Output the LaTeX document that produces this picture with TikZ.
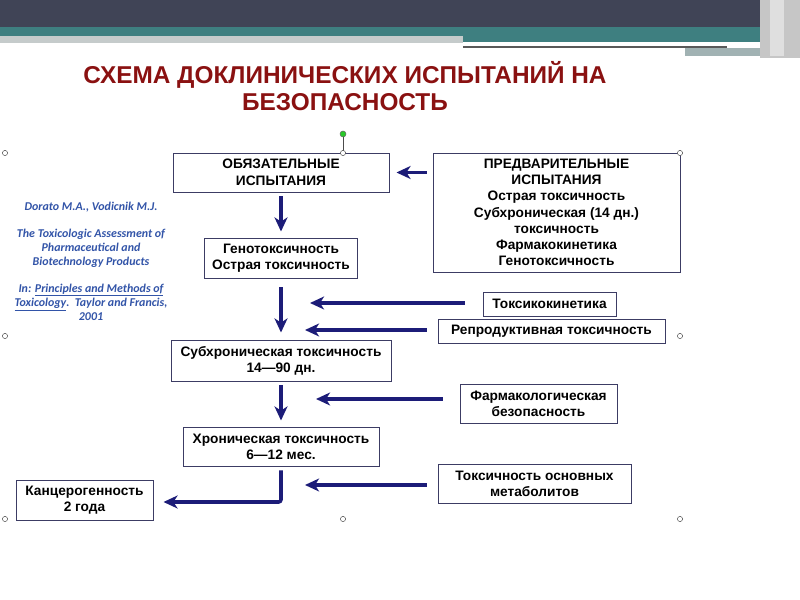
\documentclass[tikz,border=0pt]{standalone}
\usepackage{fontspec}
\setmainfont{Liberation Sans}
\newfontfamily\citefont{Carlito}
\usepackage{xcolor}
\usetikzlibrary{arrows.meta}
\definecolor{figband}{RGB}{64,68,86}
\definecolor{figteal}{RGB}{62,127,128}
\definecolor{figgrey}{RGB}{197,203,203}
\definecolor{figtitle}{RGB}{138,17,17}
\definecolor{figbox}{RGB}{60,60,100}
\definecolor{figarrow}{RGB}{28,28,120}
\definecolor{figcite}{RGB}{50,84,168}
\definecolor{fighandle}{RGB}{40,200,40}
\tikzset{
  box/.style  ={draw=figbox, fill=white, line width=0.8pt, align=center, inner sep=0pt,
                font=\fontsize{11.7}{13.8}\selectfont\bfseries},
  ttl/.style  ={text=figtitle, align=center, inner sep=0pt, font=\fontsize{20.8}{22.5}\selectfont\bfseries},
  cite/.style ={text=figcite, align=center, inner sep=0pt, font=\citefont\fontsize{10.2}{12}\selectfont\itshape\bfseries},
  ptr/.style  ={draw=figarrow, line width=3pt, -{Stealth[length=12pt,width=11pt,inset=3.5pt]}},
  hdl/.style  ={draw=black!70, fill=white, line width=0.4pt},
}
\begin{document}
\begin{tikzpicture}[x=0.03cm,y=-0.03cm]
  \useasboundingbox (0,0) rectangle (800,600);
  \fill[white] (0,0) rectangle (800,600);
  \fill[figband] (0,0) rectangle (800,27);
  \fill[figteal] (0,27) rectangle (770,36);
  \fill[figteal] (463,36) rectangle (770,42);
  \fill[figgrey] (0,36) rectangle (463,43);
  \fill[black!65] (463,46) rectangle (727,48);
  \fill[figteal!45!gray!60] (685,48) rectangle (770,56);
  \fill[gray!45] (760,0) rectangle (800,58);
  \fill[gray!25] (770,0) rectangle (784,56);
  \node[ttl] (title) at (345,86) {СХЕМА ДОКЛИНИЧЕСКИХ ИСПЫТАНИЙ НА\\БЕЗОПАСНОСТЬ};
  \node[cite] (ref) at (91,261) {Dorato M.A., Vodicnik M.J.\\[11pt]
    The Toxicologic Assessment of\\Pharmaceutical and\\Biotechnology Products\\[11pt]
    In: \underline{Principles and Methods of}\\\underline{Toxicology}.\ \ Taylor and Francis,\\2001};
  \node[box,minimum width=6.48cm,minimum height=1.17cm] (must) at (281,172.5) {ОБЯЗАТЕЛЬНЫЕ\\[1pt]ИСПЫТАНИЯ};
  \node[box,minimum width=7.41cm,minimum height=3.57cm] (prelim) at (556.5,212.5)
    {ПРЕДВАРИТЕЛЬНЫЕ\\ИСПЫТАНИЯ\\Острая токсичность\\Субхроническая (14 дн.)\\токсичность\\Фармакокинетика\\Генотоксичность};
  \node[box,minimum width=4.59cm,minimum height=1.2cm] (geno) at (281,258) {Генотоксичность\\Острая токсичность};
  \node[box,minimum width=3.99cm,minimum height=0.72cm] (tkin) at (549.5,304) {Токсикокинетика};
  \node[box,minimum width=6.81cm,minimum height=0.72cm] (repro) at (551.5,331) {Репродуктивная токсичность};
  \node[box,minimum width=6.6cm,minimum height=1.23cm] (subchr) at (281,360.5) {Субхроническая токсичность\\14—90 дн.};
  \node[box,minimum width=4.71cm,minimum height=1.17cm] (pharm) at (538.5,403.5) {Фармакологическая\\безопасность};
  \node[box,minimum width=5.88cm,minimum height=1.17cm] (chron) at (281,446.5) {Хроническая токсичность\\6—12 мес.};
  \node[box,minimum width=5.79cm,minimum height=1.17cm] (metab) at (534.5,483.5) {Токсичность основных\\метаболитов};
  \node[box,minimum width=4.11cm,minimum height=1.2cm] (carc) at (84.5,500) {Канцерогенность\\2 года};
  \coordinate (tip1) at (310,303);
  \coordinate (tip2) at (305,330);
  \coordinate (tip3) at (316,399);
  \coordinate (tip4) at (305,485);
  \coordinate (bend) at (281,502);
  \draw[ptr,shorten <=0.18cm,shorten >=0.21cm] (must.east -| prelim.west) -- (must.east);
  \draw[ptr,shorten <=0.12cm,shorten >=0.18cm] (must.south) -- (geno.north);
  \draw[ptr,shorten <=0.27cm,shorten >=0.21cm] (geno.south) -- (subchr.north);
  \draw[ptr,shorten <=0.12cm,shorten >=0.18cm] (subchr.south) -- (chron.north);
  \draw[ptr,shorten <=0.12cm,shorten >=0.3cm,rounded corners=2pt] (chron.south) -- (bend) -- (carc.east |- bend);
  \draw[ptr,shorten <=0.54cm] (tip1 -| tkin.west) -- (tip1);
  \draw[ptr,shorten <=0.33cm] (tip2 -| repro.west) -- (tip2);
  \draw[ptr,shorten <=0.51cm] (tip3 -| pharm.west) -- (tip3);
  \draw[ptr,shorten <=0.33cm] (tip4 -| metab.west) -- (tip4);
  \draw[black!70,line width=0.4pt] (343,134) -- (343,153);
  \draw[black!60,fill=fighandle,line width=0.4pt] (343,134) circle (3);
  \foreach \hx/\hy in {5/153,343/153,680/153,5/336,680/336,5/519,343/519,680/519}
    \draw[hdl] (\hx,\hy) circle (2.6);
\end{tikzpicture}
\end{document}
